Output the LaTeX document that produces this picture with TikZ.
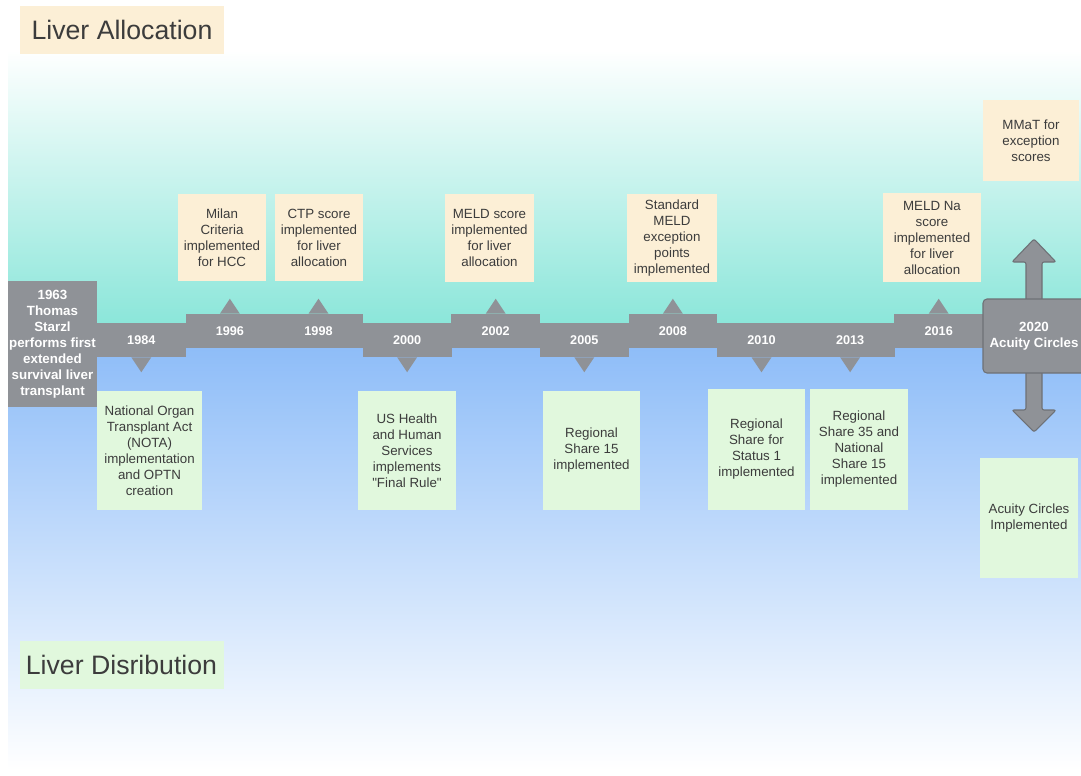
\documentclass[tikz,border=0pt]{standalone}
\usepackage{fontspec}
\setmainfont{Liberation Sans}
\usetikzlibrary{calc}
\definecolor{allocbg}{HTML}{FCEFD6}
\definecolor{distbg}{HTML}{E1F8DD}
\definecolor{bargray}{HTML}{8F9297}
\definecolor{edgegray}{HTML}{6E7176}
\definecolor{tealbg}{HTML}{86E5D8}
\definecolor{bluebg}{HTML}{8BBBF8}
\definecolor{inkgray}{HTML}{3C3C3C}
\tikzset{
	yearbar/.style={fill=bargray, text=white, font=\bfseries\fontsize{9.5}{12}\selectfont, inner sep=0pt, minimum width=66.6pt, minimum height=25.5pt},
	allocbox/.style={fill=allocbg, text=inkgray, font=\fontsize{10}{12}\selectfont, align=center, inner sep=0pt, minimum width=66pt, minimum height=65.25pt},
	distbox/.style={fill=distbg, text=inkgray, font=\fontsize{10}{12}\selectfont, align=center, inner sep=0pt, minimum width=73.5pt, minimum height=89.25pt},
	titlebox/.style={text=inkgray, font=\fontsize{20}{24}\selectfont, inner sep=0pt, minimum width=153pt, minimum height=36pt},
	bigarrow/.style={fill=bargray, draw=edgegray, line width=0.8pt, rounded corners=1.5pt}
}
\def\pointup(#1){\fill[bargray] ($(#1.north)+(-10,0)$) -- ++(10,-15) -- ++(10,15) -- cycle;}
\def\pointdown(#1){\fill[bargray] ($(#1.south)+(-10,0)$) -- ++(10,15) -- ++(10,-15) -- cycle;}

\begin{document}
\begin{tikzpicture}[x=0.75pt, y=-0.75pt]
			\clip (0, 0) rectangle (1081, 775);
			
			%%%%% BACKGROUND %%%%%
			\fill[white] (0, 0) rectangle (1081, 775);
			\shade[top color=white, bottom color=tealbg] (8, 50) rectangle (1081, 336);
			\shade[top color=bluebg, bottom color=white] (8, 335) rectangle (1081, 770);
			
			\node[titlebox, fill=allocbg] (alloctitle) at (122, 30) {Liver Allocation};
			\node[titlebox, fill=distbg] (disttitle) at (121.5, 664.5) {Liver Disribution};
			
			%%%%% TIMELINE %%%%%
			\node[yearbar, minimum width=66.75pt, minimum height=94.5pt, align=center, font=\bfseries\fontsize{10}{12}\selectfont] (y1963) at (52.5, 344)
				{1963\\Thomas\\Starzl\\performs first\\extended\\survival liver\\transplant};
			
			\node[yearbar] (y1984) at (141.3, 340) {1984};
			\node[yearbar] (y1996) at (229.9, 331) {1996};
			\node[yearbar] (y1998) at (318.5, 331) {1998};
			\node[yearbar] (y2000) at (407.1, 340) {2000};
			\node[yearbar] (y2002) at (495.7, 331) {2002};
			\node[yearbar] (y2005) at (584.3, 340) {2005};
			\node[yearbar] (y2008) at (672.9, 331) {2008};
			\node[yearbar] (y2010) at (761.5, 340) {2010};
			\node[yearbar] (y2013) at (850.1, 340) {2013};
			\node[yearbar] (y2016) at (938.7, 331) {2016};
			
			\pointdown(y1984)
			\pointup(y1996)
			\pointup(y1998)
			\pointdown(y2000)
			\pointup(y2002)
			\pointdown(y2005)
			\pointup(y2008)
			\pointdown(y2010)
			\pointdown(y2013)
			\pointup(y2016)
			
			% 2020 box with its two arrows
			\coordinate (a2020) at (1034, 299);
			\coordinate (b2020) at (1034, 373);
			\draw[bigarrow] ($(a2020)+(-8,2)$) -- ++(0,-39) -- ++(-14,0) -- ++(22,-23) -- ++(22,23) -- ++(-14,0) -- ++(0,39);
			\draw[bigarrow] ($(b2020)+(-8,-2)$) -- ++(0,39) -- ++(-14,0) -- ++(22,22) -- ++(22,-22) -- ++(-14,0) -- ++(0,-39);
			\node[yearbar, draw=edgegray, line width=0.8pt, rounded corners=3pt, minimum width=76.5pt, minimum height=55.5pt, align=center, font=\bfseries\fontsize{10}{12}\selectfont] (y2020) at (1034, 336)
				{2020\\Acuity Circles};
			
			%%%%% ALLOCATION %%%%%
			\node[allocbox] (milan) at (222, 237.5) {Milan\\Criteria\\implemented\\for HCC};
			\node[allocbox] (ctp) at (319, 237.5) {CTP score\\implemented\\for liver\\allocation};
			\node[allocbox, minimum width=66.75pt, minimum height=66pt] (meld) at (489.5, 238) {MELD score\\implemented\\for liver\\allocation};
			\node[allocbox, minimum width=67.5pt, minimum height=66pt] (stdmeld) at (672, 238) {Standard\\MELD\\exception\\points\\implemented};
			\node[allocbox, minimum width=73.5pt, minimum height=66.75pt] (meldna) at (932, 237.5) {MELD Na\\score\\implemented\\for liver\\allocation};
			\node[allocbox, minimum width=72pt, minimum height=60.75pt] (mmat) at (1031, 140.5) {MMaT for\\exception\\scores};
			
			%%%%% DISTRIBUTION %%%%%
			\node[distbox, minimum width=78.75pt] (nota) at (149.5, 450.5) {National Organ\\Transplant Act\\(NOTA)\\implementation\\and OPTN\\creation};
			\node[distbox] (finalrule) at (407, 450.5) {US Health\\and Human\\Services\\implements\\\textquotedbl Final Rule\textquotedbl};
			\node[distbox, minimum width=72.75pt] (share15) at (591.5, 450.5) {Regional\\Share 15\\implemented};
			\node[distbox, minimum width=72.75pt, minimum height=90.75pt] (status1) at (756.5, 449.5) {Regional\\Share for\\Status 1\\implemented};
			\node[distbox, minimum height=90.75pt] (share35) at (859, 449.5) {Regional\\Share 35 and\\National\\Share 15\\implemented};
			\node[distbox, minimum height=90pt] (acuity) at (1029, 518) {Acuity Circles\\Implemented};
			
		\end{tikzpicture}
\end{document}
